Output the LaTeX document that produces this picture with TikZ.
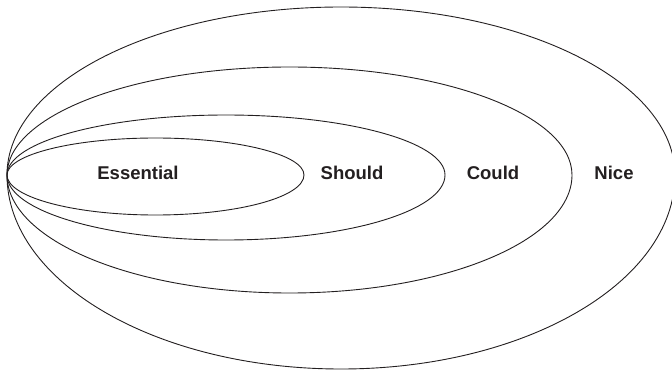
\documentclass[tikz,border=0pt]{standalone}
\usepackage{fontspec}
\setmainfont{Liberation Sans}
\definecolor{ink}{HTML}{231F20}
\begin{document}
\begin{tikzpicture}[x=1pt,y=1pt,
  ring/.style={draw=ink,line width=0.9pt},
  lab/.style={anchor=base,font=\fontsize{18.5}{22}\selectfont\bfseries,text=ink,inner sep=0pt}]
\useasboundingbox (0,0) rectangle (672,373);
\coordinate (L) at (7,198);
% outer (Nice)
\draw[ring] (L) arc[start angle=180,end angle=0,x radius=334,y radius=168]
  arc[start angle=0,end angle=-180,x radius=334,y radius=194];
% Could
\draw[ring] (L) arc[start angle=180,end angle=0,x radius=282.5,y radius=108]
  arc[start angle=0,end angle=-180,x radius=282.5,y radius=118];
% Should
\draw[ring] (L) arc[start angle=180,end angle=0,x radius=219,y radius=60]
  arc[start angle=0,end angle=-180,x radius=219,y radius=65];
% Essential
\draw[ring] (L) arc[start angle=180,end angle=0,x radius=148.5,y radius=37]
  arc[start angle=0,end angle=-180,x radius=148.5,y radius=40];
\node[lab] (ess) at (138,194) {Essential};
\node[lab] (sho) at (352,194) {Should};
\node[lab] (cou) at (493,194) {Could};
\node[lab] (nic) at (614,194) {Nice};
\end{tikzpicture}
\end{document}
